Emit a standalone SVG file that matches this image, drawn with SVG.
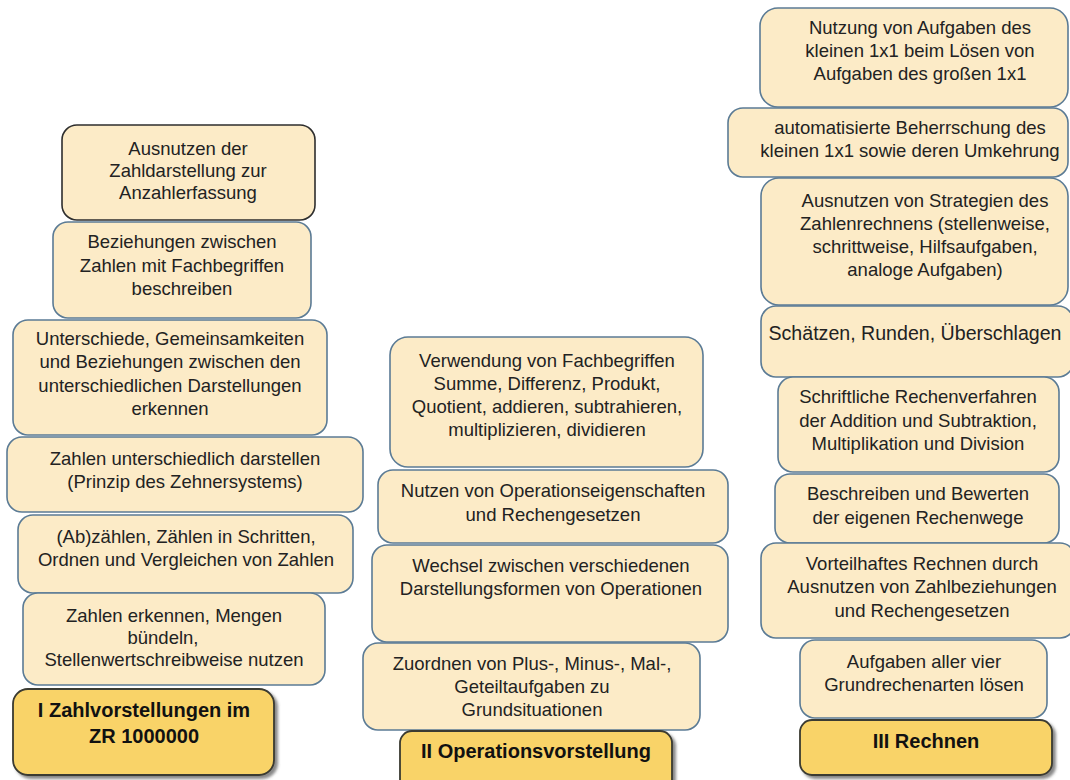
<svg xmlns="http://www.w3.org/2000/svg" width="1070" height="780" viewBox="0 0 1070 780">
<defs>
<filter id="sh" x="-10%" y="-10%" width="130%" height="140%">
<feDropShadow dx="3" dy="3" stdDeviation="1.5" flood-color="#555" flood-opacity="0.7"/>
</filter>
</defs>
<style>
.b{fill:#FCEBC7;stroke:#5B7B95;stroke-width:1.6}
.bk{fill:#FCEBC7;stroke:#2E2E2E;stroke-width:1.6}
.h{fill:#F9D368;stroke:#3A3A30;stroke-width:1.8;filter:url(#sh)}
text{font-family:"Liberation Sans",Arial,sans-serif;font-size:18.5px;fill:#222;text-anchor:middle}
.ht{font-weight:bold;font-size:20px;fill:#111}
.lg{font-size:19.6px}
</style>
<rect width="1070" height="780" fill="#fff"/>
<g id="connectors"/>

<!-- Column I -->
<g id="z1"><rect class="bk" x="62" y="125" width="253" height="95" rx="15"/>
<text x="188" y="155">Ausnutzen der</text><text x="188" y="177">Zahldarstellung zur</text><text x="188" y="199">Anzahlerfassung</text></g>
<g id="z2"><rect class="b" x="53" y="222" width="258" height="96" rx="15"/>
<text x="182" y="248">Beziehungen zwischen</text><text x="182" y="272">Zahlen mit Fachbegriffen</text><text x="182" y="295">beschreiben</text></g>
<g id="z3"><rect class="b" x="13" y="320" width="314" height="115" rx="15"/>
<text x="170" y="345">Unterschiede, Gemeinsamkeiten</text><text x="170" y="368">und Beziehungen zwischen den</text><text x="170" y="392">unterschiedlichen Darstellungen</text><text x="170" y="415">erkennen</text></g>
<g id="z4"><rect class="b" x="7" y="437" width="356" height="75" rx="15"/>
<text x="185" y="465">Zahlen unterschiedlich darstellen</text><text x="185" y="488">(Prinzip des Zehnersystems)</text></g>
<g id="z5"><rect class="b" x="18" y="515" width="335" height="78" rx="15"/>
<text x="186" y="543">(Ab)zählen, Zählen in Schritten,</text><text x="186" y="566">Ordnen und Vergleichen von Zahlen</text></g>
<g id="z6"><rect class="b" x="23" y="593" width="302" height="92" rx="15"/>
<text x="174" y="622">Zahlen erkennen, Mengen</text><text x="163" y="644">bündeln,</text><text x="174" y="666">Stellenwertschreibweise nutzen</text></g>
<g id="z7"><rect class="h" x="13" y="689" width="261" height="86" rx="15"/>
<text class="ht" x="144" y="717">I Zahlvorstellungen im</text><text class="ht" x="144" y="743">ZR 1000000</text></g>

<!-- Column II -->
<g id="o1"><rect class="b" x="390" y="337" width="313" height="130" rx="18"/>
<text x="547" y="367">Verwendung von Fachbegriffen</text><text x="547" y="390">Summe, Differenz, Produkt,</text><text x="547" y="413">Quotient, addieren, subtrahieren,</text><text x="547" y="436">multiplizieren, dividieren</text></g>
<g id="o2"><rect class="b" x="378" y="470" width="350" height="73" rx="15"/>
<text x="553" y="497">Nutzen von Operationseigenschaften</text><text x="553" y="521">und Rechengesetzen</text></g>
<g id="o3"><rect class="b" x="372" y="545" width="356" height="97" rx="15"/>
<text x="551" y="572">Wechsel zwischen verschiedenen</text><text x="551" y="595">Darstellungsformen von Operationen</text></g>
<g id="o4"><rect class="b" x="363" y="643" width="337" height="87" rx="15"/>
<text x="532" y="670">Zuordnen von Plus-, Minus-, Mal-,</text><text x="532" y="693">Geteiltaufgaben zu</text><text x="532" y="716">Grundsituationen</text></g>
<g id="o5"><rect class="h" x="400" y="731" width="272" height="62" rx="12"/>
<text class="ht" x="536" y="758">II Operationsvorstellung</text></g>

<!-- Column III -->
<g id="r1"><rect class="b" x="760" y="8" width="308" height="99" rx="18"/>
<text x="920" y="34">Nutzung von Aufgaben des</text><text x="920" y="57">kleinen 1x1 beim Lösen von</text><text x="920" y="80">Aufgaben des großen 1x1</text></g>
<g id="r2"><rect class="b" x="728" y="108" width="340" height="69" rx="15"/>
<text x="910" y="134">automatisierte Beherrschung des</text><text x="910" y="157">kleinen 1x1 sowie deren Umkehrung</text></g>
<g id="r3"><rect class="b" x="761" y="178" width="307" height="127" rx="18"/>
<text x="925" y="207">Ausnutzen von Strategien des</text><text x="925" y="230">Zahlenrechnens (stellenweise,</text><text x="925" y="253">schrittweise, Hilfsaufgaben,</text><text x="925" y="276">analoge Aufgaben)</text></g>
<g id="r4"><rect class="b" x="761" y="306" width="312" height="71" rx="15"/>
<text class="lg" x="915" y="340">Schätzen, Runden, Überschlagen</text></g>
<g id="r5"><rect class="b" x="778" y="377" width="281" height="95" rx="15"/>
<text x="918" y="403">Schriftliche Rechenverfahren</text><text x="918" y="427">der Addition und Subtraktion,</text><text x="918" y="450">Multiplikation und Division</text></g>
<g id="r6"><rect class="b" x="775" y="474" width="284" height="69" rx="15"/>
<text x="918" y="500">Beschreiben und Bewerten</text><text x="918" y="524">der eigenen Rechenwege</text></g>
<g id="r7"><rect class="b" x="761" y="543" width="314" height="95" rx="15"/>
<text x="922" y="570">Vorteilhaftes Rechnen durch</text><text x="922" y="593">Ausnutzen von Zahlbeziehungen</text><text x="922" y="617">und Rechengesetzen</text></g>
<g id="r8"><rect class="b" x="800" y="640" width="247" height="78" rx="15"/>
<text x="924" y="668">Aufgaben aller vier</text><text x="924" y="691">Grundrechenarten lösen</text></g>
<g id="r9"><rect class="h" x="800" y="720" width="252" height="55" rx="12"/>
<text class="ht" x="926" y="748">III Rechnen</text></g>
</svg>
